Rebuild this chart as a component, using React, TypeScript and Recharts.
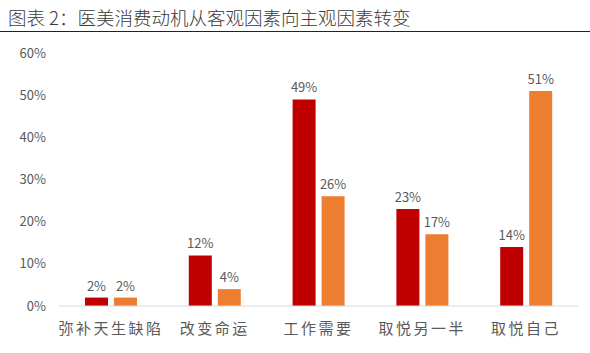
import React from "react";
import { Bar, BarChart, LabelList, XAxis, YAxis } from "recharts";

const categories = ["弥补天生缺陷", "改变命运", "工作需要", "取悦另一半", "取悦自己"];
const seriesA = [2, 12, 49, 23, 14];
const seriesB = [2, 4, 26, 17, 51];
const yTicks = [0, 10, 20, 30, 40, 50, 60];

const data = categories.map((name, i) => ({ name, a: seriesA[i], b: seriesB[i] }));

const cjk = '"Noto Sans CJK SC", "Noto Sans", sans-serif';

export default function App() {
  return (
    <div
      style={{
        position: "absolute",
        left: 0,
        top: 0,
        width: 590,
        height: 353,
        background: "#fff",
        overflow: "hidden",
        fontFamily: cjk
      }}
    >
      <div
        style={{
          position: "absolute",
          left: 8,
          top: 4,
          fontSize: 18.5,
          lineHeight: "26px",
          color: "#3a3a3a",
          fontWeight: 300,
          whiteSpace: "nowrap"
        }}
      >
        图表 2：医美消费动机从客观因素向主观因素转变
      </div>
      <div style={{ position: "absolute", left: 0, top: 31, width: 590, height: 1, background: "#222" }} />
      <div style={{ position: "absolute", left: 0, top: 0 }}>
        <BarChart
          width={590}
          height={353}
          data={data}
          margin={{ top: 53, right: 12, bottom: 17, left: 0 }}
          barGap={6}
          barCategoryGap="25%"
        >
          <XAxis
            dataKey="name"
            height={30}
            tickLine={false}
            axisLine={{ stroke: "#d9d9d9" }}
            tick={{ fontSize: 15, fill: "#595959", fontFamily: cjk, letterSpacing: 2.5 }}
            tickMargin={11}
            interval={0}
          />
          <YAxis
            width={59}
            domain={[0, 60]}
            ticks={yTicks}
            axisLine={false}
            tickLine={false}
            tickMargin={7}
            tickFormatter={(v) => `${v}%`}
            tick={{ fontSize: 13, fill: "#595959", fontFamily: cjk }}
          />
          <Bar dataKey="a" fill="#C00000" barSize={23} isAnimationActive={false}>
            <LabelList
              dataKey="a"
              position="top"
              offset={7}
              formatter={(v) => `${v}%`}
              style={{ fontSize: 13, fill: "#595959", fontFamily: cjk }}
            />
          </Bar>
          <Bar dataKey="b" fill="#ED7D31" barSize={23} isAnimationActive={false}>
            <LabelList
              dataKey="b"
              position="top"
              offset={7}
              formatter={(v) => `${v}%`}
              style={{ fontSize: 13, fill: "#595959", fontFamily: cjk }}
            />
          </Bar>
        </BarChart>
      </div>
    </div>
  );
}
